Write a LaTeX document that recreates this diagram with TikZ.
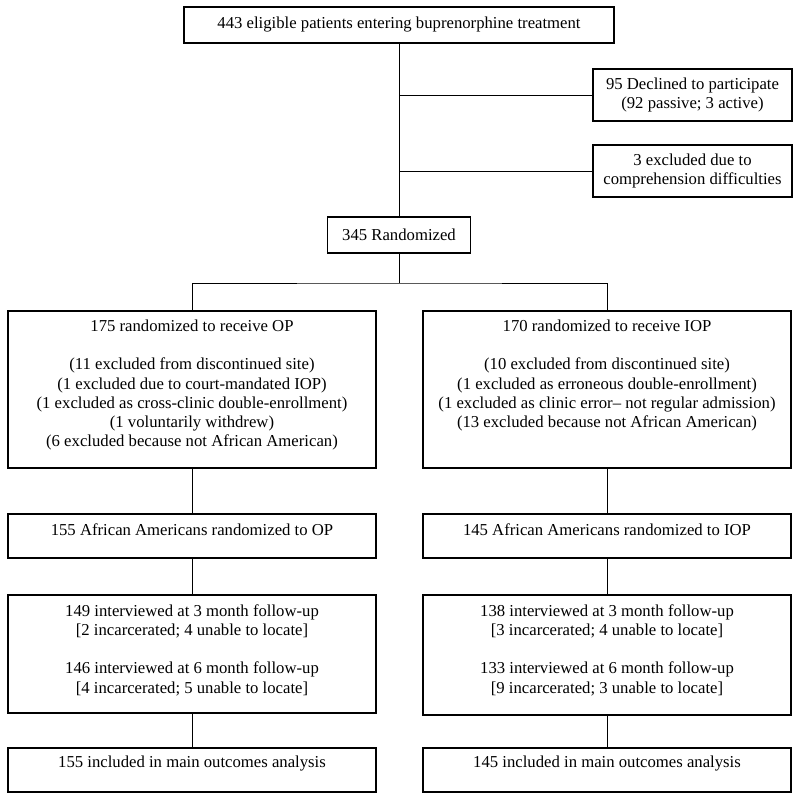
\documentclass[tikz,border=0pt]{standalone}
\usepackage{fontspec}
\setmainfont{Liberation Serif}
\begin{document}
\begin{tikzpicture}[x=1pt,y=-1pt,
  box/.style={draw, line width=1.1pt, inner sep=0pt, anchor=center, align=center},
  txt/.style={inner sep=0pt, align=center, anchor=center},
  conn/.style={line width=0.9pt},
  every node/.append style={font=\fontsize{16.7}{19.3}\selectfont}]
\useasboundingbox (0,0) rectangle (800,800);
% top part
\node[box, minimum width=430pt, minimum height=36pt] (top) at (399,25) {443 eligible patients entering buprenorphine treatment};
\node[box, minimum width=199pt, minimum height=52pt] (decl) at (692.5,95) {95 Declined to participate\\(92 passive; 3 active)};
\node[box, minimum width=199pt, minimum height=52pt] (excl) at (692.5,171) {3 excluded due to\\comprehension difficulties};
\node[box, minimum width=143pt, minimum height=36pt] (rand) at (399,235) {345 Randomized};
% arm boxes
\node[box, minimum width=368pt, minimum height=157pt] (opbig) at (192,389.5) {};
\node[box, minimum width=368pt, minimum height=157pt] (iopbig) at (607,389.5) {};
\node[box, minimum width=368pt, minimum height=44pt] (opaa) at (192,536) {};
\node[box, minimum width=368pt, minimum height=44pt] (iopaa) at (607,536) {};
\node[box, minimum width=368pt, minimum height=118pt] (opfu) at (192,654) {};
\node[box, minimum width=368pt, minimum height=120pt] (iopfu) at (607,655) {};
\node[box, minimum width=368pt, minimum height=44pt] (opfin) at (192,770) {};
\node[box, minimum width=368pt, minimum height=44pt] (iopfin) at (607,770) {};
% texts
\node[txt] (topbigt) at (192,385) {175 randomized to receive OP\\[19.3pt](11 excluded from discontinued site)\\(1 excluded due to court-mandated IOP)\\(1 excluded as cross-clinic double-enrollment)\\(1 voluntarily withdrew)\\(6 excluded because not African American)};
\node[txt] (iopbigt) at (607,375.5) {170 randomized to receive IOP\\[19.3pt](10 excluded from discontinued site)\\(1 excluded as erroneous double-enrollment)\\(1 excluded as clinic error-- not regular admission)\\(13 excluded because not African American)};
\node[txt] (opaat) at (192,530) {155 African Americans randomized to OP};
\node[txt] (iopaat) at (607,530) {145 African Americans randomized to IOP};
\node[txt] (opfut) at (192,650) {149 interviewed at 3 month follow-up\\{}[2 incarcerated; 4 unable to locate]\\[19.3pt]146 interviewed at 6 month follow-up\\{}[4 incarcerated; 5 unable to locate]};
\node[txt] (iopfut) at (607,650) {138 interviewed at 3 month follow-up\\{}[3 incarcerated; 4 unable to locate]\\[19.3pt]133 interviewed at 6 month follow-up\\{}[9 incarcerated; 3 unable to locate]};
\node[txt] (opfint) at (192,763) {155 included in main outcomes analysis};
\node[txt] (iopfint) at (607,763) {145 included in main outcomes analysis};
% connectors
\draw[conn] (top.south) -- (rand.north);
\draw[conn] (decl.west) -- (decl.west -| top.south);
\draw[conn] (excl.west) -- (excl.west -| top.south);
\coordinate (split) at (399,283);
\draw[conn] (rand.south) -- (split);
\draw[conn] (opbig.north) |- (split) -| (iopbig.north);
\draw[conn] (opbig.south) -- (opaa.north);
\draw[conn] (iopbig.south) -- (iopaa.north);
\draw[conn] (opaa.south) -- (opfu.north);
\draw[conn] (iopaa.south) -- (iopfu.north);
\draw[conn] (opfu.south) -- (opfin.north);
\draw[conn] (iopfu.south) -- (iopfin.north);
\end{tikzpicture}
\end{document}
